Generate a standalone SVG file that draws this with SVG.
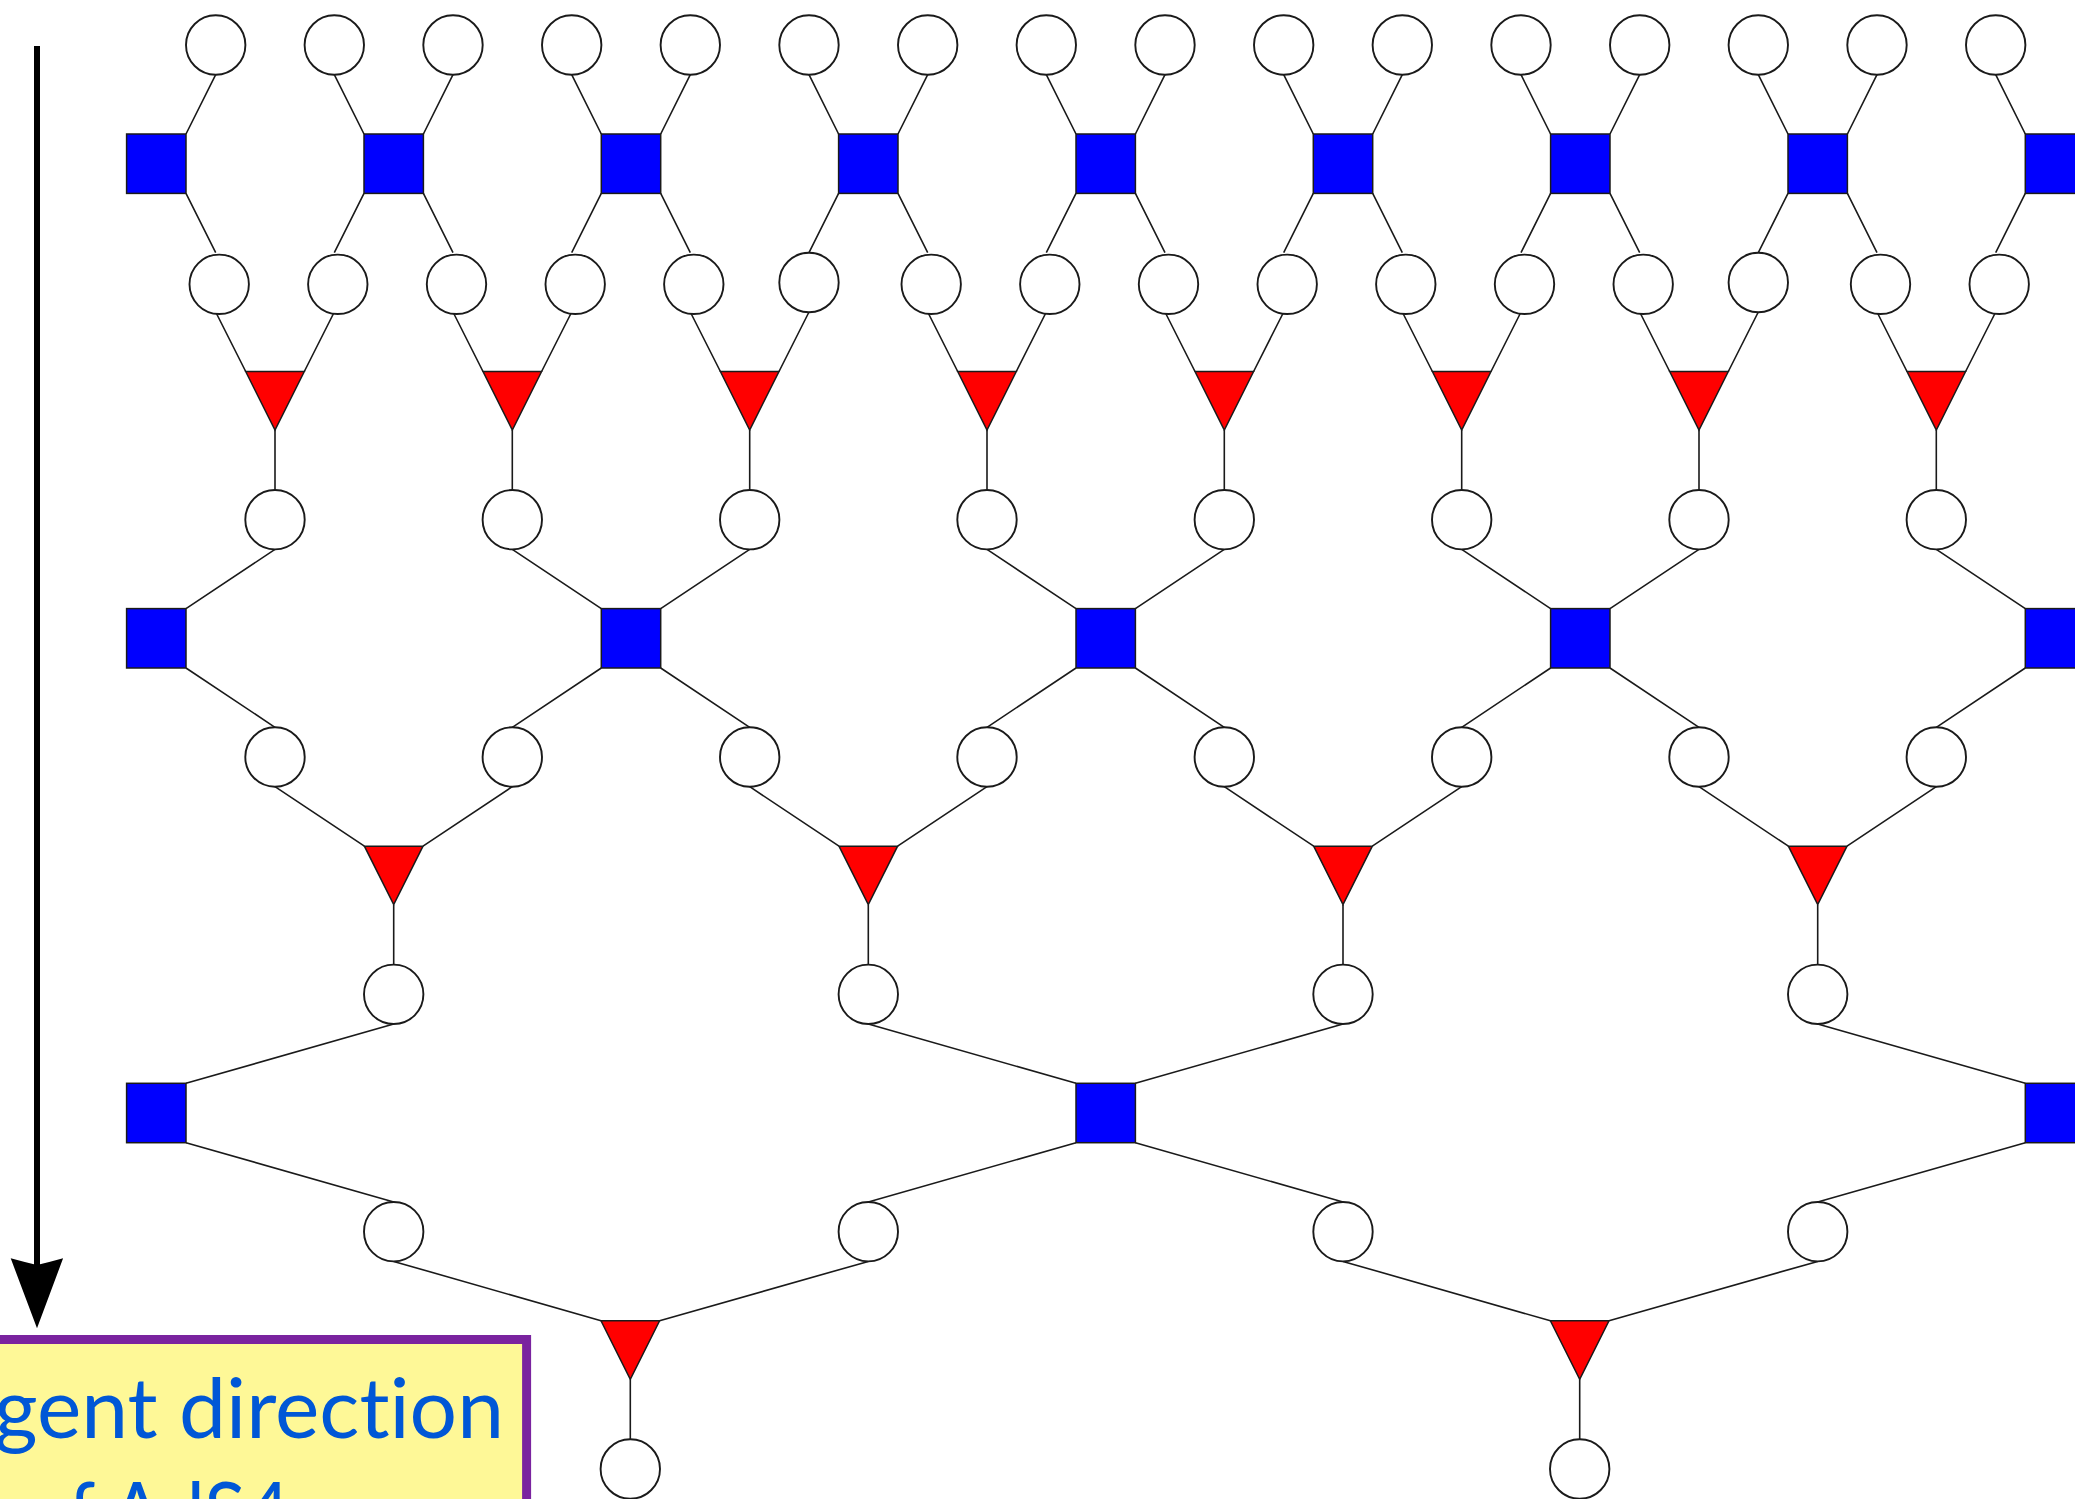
<svg xmlns="http://www.w3.org/2000/svg" width="2075" height="1499" viewBox="0 0 2075 1499">
<style>
.bg{fill:#ffffff}
.e{stroke:#1a1a1a;stroke-width:1.6;fill:none}
.c{fill:#ffffff;stroke:#1a1a1a;stroke-width:1.9}
.s{fill:#0000ff;stroke:#1a1a1a;stroke-width:1.5}
.t{fill:#ff0000;stroke:#1a1a1a;stroke-width:1.5;stroke-linejoin:miter}
.lbl{font-family:Lato,"Open Sans","Liberation Sans",sans-serif;font-size:84px;fill:#0057d6;font-variant-ligatures:none;font-feature-settings:"liga" 0,"clig" 0}
</style>
<rect class="bg" x="0" y="0" width="2075" height="1499"/>
<g id="connectors">
<path class="e" d="M215.7,74.7L186,134M334.3,74.7L364,134M453,74.7L423.4,134M571.7,74.7L601.3,134M690.3,74.7L660.7,134M809,74.7L838.6,134M927.7,74.7L898,134M1046.3,74.7L1076,134M1165,74.7L1135.4,134M1283.7,74.7L1313.3,134M1402.3,74.7L1372.7,134M1521,74.7L1550.6,134M1639.7,74.7L1610,134M1758.3,74.7L1788,134M1877,74.7L1847.4,134M1995.7,74.7L2025.3,134"/>
<path class="e" d="M186,193.4L215.7,252.6M364,193.4L334.3,252.6M423.4,193.4L453,252.6M601.3,193.4L571.7,252.6M660.7,193.4L690.3,252.6M838.6,193.4L809,252.6M898,193.4L927.7,252.6M1076,193.4L1046.3,252.6M1135.4,193.4L1165,252.6M1313.3,193.4L1283.7,252.6M1372.7,193.4L1402.3,252.6M1550.6,193.4L1521,252.6M1610,193.4L1639.7,252.6M1788,193.4L1758.3,252.6M1847.4,193.4L1877,252.6M2025.3,193.4L1995.7,252.6"/>
<path class="e" d="M215.7,312L245.7,371.5M334.3,312L304.3,371.5M453,312L483,371.5M571.7,312L541.6,371.5M690.3,312L720.4,371.5M809,312L779,371.5M927.7,312L957.7,371.5M1046.3,312L1016.3,371.5M1165,312L1195,371.5M1283.7,312L1253.6,371.5M1402.3,312L1432.4,371.5M1521,312L1491,371.5M1639.7,312L1669.7,371.5M1758.3,312L1728.3,371.5M1877,312L1907,371.5M1995.7,312L1965.6,371.5"/>
<path class="e" d="M275,430V490M512.3,430V490M749.7,430V490M987,430V490M1224.3,430V490M1461.7,430V490M1699,430V490M1936.3,430V490"/>
<path class="e" d="M275,549.4L186,608.6M512.3,549.4L601.3,608.6M749.7,549.4L660.7,608.6M987,549.4L1076,608.6M1224.3,549.4L1135.4,608.6M1461.7,549.4L1550.6,608.6M1699,549.4L1610,608.6M1936.3,549.4L2025.3,608.6"/>
<path class="e" d="M186,668L275,727.3M601.3,668L512.3,727.3M660.7,668L749.7,727.3M1076,668L987,727.3M1135.4,668L1224.3,727.3M1550.6,668L1461.7,727.3M1610,668L1699,727.3M2025.3,668L1936.3,727.3"/>
<path class="e" d="M275,786.7L364.4,846.2M512.3,786.7L423,846.2M749.7,786.7L839,846.2M987,786.7L897.6,846.2M1224.3,786.7L1313.7,846.2M1461.7,786.7L1372.3,846.2M1699,786.7L1788.4,846.2M1936.3,786.7L1847,846.2"/>
<path class="e" d="M393.7,904.7V964.6M868.3,904.7V964.6M1343,904.7V964.6M1817.7,904.7V964.6"/>
<path class="e" d="M393.7,1024L186,1083.3M868.3,1024L1076,1083.3M1343,1024L1135.4,1083.3M1817.7,1024L2025.3,1083.3"/>
<path class="e" d="M186,1142.7L393.7,1202M1076,1142.7L868.3,1202M1135.4,1142.7L1343,1202M2025.3,1142.7L1817.7,1202"/>
<path class="e" d="M393.7,1261.4L601,1320.8M868.3,1261.4L659.6,1320.8M1343,1261.4L1550.4,1320.8M1817.7,1261.4L1609,1320.8"/>
<path class="e" d="M630.3,1379.3V1439.3M1579.7,1379.3V1439.3"/>
</g>
<g id="nodes">
<g id="r0c0"><circle class="c" cx="215.7" cy="45" r="29.7"/></g>
<g id="r0c1"><circle class="c" cx="334.3" cy="45" r="29.7"/></g>
<g id="r0c2"><circle class="c" cx="453" cy="45" r="29.7"/></g>
<g id="r0c3"><circle class="c" cx="571.7" cy="45" r="29.7"/></g>
<g id="r0c4"><circle class="c" cx="690.3" cy="45" r="29.7"/></g>
<g id="r0c5"><circle class="c" cx="809" cy="45" r="29.7"/></g>
<g id="r0c6"><circle class="c" cx="927.7" cy="45" r="29.7"/></g>
<g id="r0c7"><circle class="c" cx="1046.3" cy="45" r="29.7"/></g>
<g id="r0c8"><circle class="c" cx="1165" cy="45" r="29.7"/></g>
<g id="r0c9"><circle class="c" cx="1283.7" cy="45" r="29.7"/></g>
<g id="r0c10"><circle class="c" cx="1402.3" cy="45" r="29.7"/></g>
<g id="r0c11"><circle class="c" cx="1521" cy="45" r="29.7"/></g>
<g id="r0c12"><circle class="c" cx="1639.7" cy="45" r="29.7"/></g>
<g id="r0c13"><circle class="c" cx="1758.3" cy="45" r="29.7"/></g>
<g id="r0c14"><circle class="c" cx="1877" cy="45" r="29.7"/></g>
<g id="r0c15"><circle class="c" cx="1995.7" cy="45" r="29.7"/></g>

<g id="r1s0"><rect class="s" x="126.6" y="134" width="59.4" height="59.4"/></g>
<g id="r1s1"><rect class="s" x="364" y="134" width="59.4" height="59.4"/></g>
<g id="r1s2"><rect class="s" x="601.3" y="134" width="59.4" height="59.4"/></g>
<g id="r1s3"><rect class="s" x="838.6" y="134" width="59.4" height="59.4"/></g>
<g id="r1s4"><rect class="s" x="1076" y="134" width="59.4" height="59.4"/></g>
<g id="r1s5"><rect class="s" x="1313.3" y="134" width="59.4" height="59.4"/></g>
<g id="r1s6"><rect class="s" x="1550.6" y="134" width="59.4" height="59.4"/></g>
<g id="r1s7"><rect class="s" x="1788" y="134" width="59.4" height="59.4"/></g>
<g id="r1s8"><rect class="s" x="2025.3" y="134" width="59.4" height="59.4"/></g>

<g id="r2c0"><circle class="c" cx="219.2" cy="284.3" r="29.7"/></g>
<g id="r2c1"><circle class="c" cx="337.8" cy="284.3" r="29.7"/></g>
<g id="r2c2"><circle class="c" cx="456.5" cy="284.3" r="29.7"/></g>
<g id="r2c3"><circle class="c" cx="575.2" cy="284.3" r="29.7"/></g>
<g id="r2c4"><circle class="c" cx="693.8" cy="284.3" r="29.7"/></g>
<g id="r2c5"><circle class="c" cx="809" cy="282.5" r="29.7"/></g>
<g id="r2c6"><circle class="c" cx="931.2" cy="284.3" r="29.7"/></g>
<g id="r2c7"><circle class="c" cx="1049.8" cy="284.3" r="29.7"/></g>
<g id="r2c8"><circle class="c" cx="1168.5" cy="284.3" r="29.7"/></g>
<g id="r2c9"><circle class="c" cx="1287.2" cy="284.3" r="29.7"/></g>
<g id="r2c10"><circle class="c" cx="1405.8" cy="284.3" r="29.7"/></g>
<g id="r2c11"><circle class="c" cx="1524.5" cy="284.3" r="29.7"/></g>
<g id="r2c12"><circle class="c" cx="1643.2" cy="284.3" r="29.7"/></g>
<g id="r2c13"><circle class="c" cx="1758.3" cy="282.5" r="29.7"/></g>
<g id="r2c14"><circle class="c" cx="1880.5" cy="284.3" r="29.7"/></g>
<g id="r2c15"><circle class="c" cx="1999.2" cy="284.3" r="29.7"/></g>

<g id="r3t0"><polygon class="t" points="245.7,371.5 304.3,371.5 275,430"/></g>
<g id="r3t1"><polygon class="t" points="483,371.5 541.6,371.5 512.3,430"/></g>
<g id="r3t2"><polygon class="t" points="720.4,371.5 779,371.5 749.7,430"/></g>
<g id="r3t3"><polygon class="t" points="957.7,371.5 1016.3,371.5 987,430"/></g>
<g id="r3t4"><polygon class="t" points="1195,371.5 1253.6,371.5 1224.3,430"/></g>
<g id="r3t5"><polygon class="t" points="1432.4,371.5 1491,371.5 1461.7,430"/></g>
<g id="r3t6"><polygon class="t" points="1669.7,371.5 1728.3,371.5 1699,430"/></g>
<g id="r3t7"><polygon class="t" points="1907,371.5 1965.6,371.5 1936.3,430"/></g>

<g id="r4c0"><circle class="c" cx="275" cy="519.7" r="29.7"/></g>
<g id="r4c1"><circle class="c" cx="512.3" cy="519.7" r="29.7"/></g>
<g id="r4c2"><circle class="c" cx="749.7" cy="519.7" r="29.7"/></g>
<g id="r4c3"><circle class="c" cx="987" cy="519.7" r="29.7"/></g>
<g id="r4c4"><circle class="c" cx="1224.3" cy="519.7" r="29.7"/></g>
<g id="r4c5"><circle class="c" cx="1461.7" cy="519.7" r="29.7"/></g>
<g id="r4c6"><circle class="c" cx="1699" cy="519.7" r="29.7"/></g>
<g id="r4c7"><circle class="c" cx="1936.3" cy="519.7" r="29.7"/></g>

<g id="r5s0"><rect class="s" x="126.6" y="608.6" width="59.4" height="59.4"/></g>
<g id="r5s1"><rect class="s" x="601.3" y="608.6" width="59.4" height="59.4"/></g>
<g id="r5s2"><rect class="s" x="1076" y="608.6" width="59.4" height="59.4"/></g>
<g id="r5s3"><rect class="s" x="1550.6" y="608.6" width="59.4" height="59.4"/></g>
<g id="r5s4"><rect class="s" x="2025.3" y="608.6" width="59.4" height="59.4"/></g>

<g id="r6c0"><circle class="c" cx="275" cy="757" r="29.7"/></g>
<g id="r6c1"><circle class="c" cx="512.3" cy="757" r="29.7"/></g>
<g id="r6c2"><circle class="c" cx="749.7" cy="757" r="29.7"/></g>
<g id="r6c3"><circle class="c" cx="987" cy="757" r="29.7"/></g>
<g id="r6c4"><circle class="c" cx="1224.3" cy="757" r="29.7"/></g>
<g id="r6c5"><circle class="c" cx="1461.7" cy="757" r="29.7"/></g>
<g id="r6c6"><circle class="c" cx="1699" cy="757" r="29.7"/></g>
<g id="r6c7"><circle class="c" cx="1936.3" cy="757" r="29.7"/></g>

<g id="r7t0"><polygon class="t" points="364.4,846.2 423,846.2 393.7,904.7"/></g>
<g id="r7t1"><polygon class="t" points="839,846.2 897.6,846.2 868.3,904.7"/></g>
<g id="r7t2"><polygon class="t" points="1313.7,846.2 1372.3,846.2 1343,904.7"/></g>
<g id="r7t3"><polygon class="t" points="1788.4,846.2 1847,846.2 1817.7,904.7"/></g>

<g id="r8c0"><circle class="c" cx="393.7" cy="994.3" r="29.7"/></g>
<g id="r8c1"><circle class="c" cx="868.3" cy="994.3" r="29.7"/></g>
<g id="r8c2"><circle class="c" cx="1343" cy="994.3" r="29.7"/></g>
<g id="r8c3"><circle class="c" cx="1817.7" cy="994.3" r="29.7"/></g>

<g id="r9s0"><rect class="s" x="126.6" y="1083.3" width="59.4" height="59.4"/></g>
<g id="r9s1"><rect class="s" x="1076" y="1083.3" width="59.4" height="59.4"/></g>
<g id="r9s2"><rect class="s" x="2025.3" y="1083.3" width="59.4" height="59.4"/></g>

<g id="r10c0"><circle class="c" cx="393.7" cy="1231.7" r="29.7"/></g>
<g id="r10c1"><circle class="c" cx="868.3" cy="1231.7" r="29.7"/></g>
<g id="r10c2"><circle class="c" cx="1343" cy="1231.7" r="29.7"/></g>
<g id="r10c3"><circle class="c" cx="1817.7" cy="1231.7" r="29.7"/></g>

<g id="r11t0"><polygon class="t" points="601,1320.8 659.6,1320.8 630.3,1379.3"/></g>
<g id="r11t1"><polygon class="t" points="1550.4,1320.8 1609,1320.8 1579.7,1379.3"/></g>

<g id="r12c0"><circle class="c" cx="630.3" cy="1469" r="29.7"/></g>
<g id="r12c1"><circle class="c" cx="1579.7" cy="1469" r="29.7"/></g>
</g>
<g id="axis">
<rect x="34" y="46" width="6" height="1222" fill="#000000"/>
<path d="M10.7,1258.3 Q24,1262 37,1265 Q50,1262 63.1,1258.3 L37,1328.3 Z" fill="#000000"/>
</g>
<g id="label">
<rect x="-20" y="1339.5" width="546.6" height="220" fill="#fef897" stroke="#7a239f" stroke-width="9"/>
<text class="lbl" x="-6" y="1438" textLength="510" lengthAdjust="spacingAndGlyphs">gent direction</text>
<text class="lbl" x="26" y="1542" textLength="264" lengthAdjust="spacingAndGlyphs">of AdS4</text>
</g>
</svg>
